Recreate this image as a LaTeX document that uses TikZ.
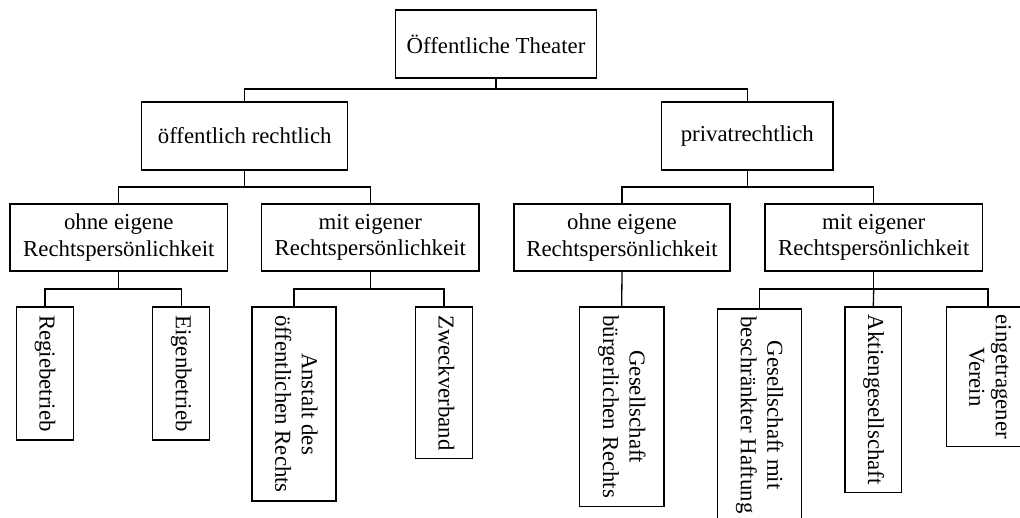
\documentclass[tikz,border=0pt]{standalone}
\usepackage{fontspec}
\setmainfont{Liberation Serif}
\usepackage{graphicx}
\begin{document}
\begin{tikzpicture}[x=1pt,y=-1pt,
  box/.style={draw, line width=1.3pt, inner sep=2pt, align=center, fill=white,
    font=\fontsize{22.8}{26.5}\selectfont},
  conn/.style={line width=1.3pt},
]
\newcommand{\vtext}[1]{\rotatebox{-90}{\begin{tabular}{@{}c@{}}#1\end{tabular}}}
\path[use as bounding box, clip] (0,0) rectangle (1020,517);
\fill[white] (0,0) rectangle (1020,517);

% level 0
\node[box, minimum width=201, minimum height=68] (root) at (496,44) {Öffentliche Theater};

% level 1
\node[box, minimum width=206, minimum height=68] (oer) at (244.7,136) {öffentlich rechtlich};
\node[box, minimum width=171.3, minimum height=68] (pr) at (747.3,136) {privatrechtlich};

% level 2
\node[box, minimum width=217.7, minimum height=67] (lo) at (118.8,237.5) {ohne eigene\\Rechtspersönlichkeit};
\node[box, minimum width=217.3, minimum height=67] (lm) at (370.3,237.5) {mit eigener\\Rechtspersönlichkeit};
\node[box, minimum width=216, minimum height=67] (ro) at (622,237.5) {ohne eigene\\Rechtspersönlichkeit};
\node[box, minimum width=217.3, minimum height=67] (rm) at (873.7,237.5) {mit eigener\\Rechtspersönlichkeit};

% level 3 (vertical labels)
\node[box, minimum width=56.7, minimum height=133] (regie) at (45,373.5) {\vtext{Regiebetrieb}};
\node[box, minimum width=57, minimum height=133] (eigen) at (181.2,373.5) {\vtext{Eigenbetrieb}};
\node[box, minimum width=84, minimum height=194] (anst) at (294,404) {\vtext{Anstalt des\\öffentlichen Rechts}};
\node[box, minimum width=56.7, minimum height=151.7] (zweck) at (444,382.8) {\vtext{Zweckverband}};
\node[box, minimum width=84.7, minimum height=199.7] (gbr) at (621.7,406.8) {\vtext{Gesellschaft\\bürgerlichen Rechts}};
\node[box, minimum width=84.3, minimum height=212] (gmbh) at (759.5,415) {\vtext{Gesellschaft mit\\beschränkter Haftung}};
\node[box, minimum width=56.7, minimum height=185.7] (ag) at (873.3,399.8) {\vtext{Aktiengesellschaft}};
\node[box, minimum width=83, minimum height=139.7] (ev) at (988,376.8) {\vtext{eingetragener\\Verein}};

% bus heights
\coordinate (bus0) at (0,89);
\coordinate (bus1) at (0,187);
\coordinate (bus2) at (0,289);

% connectors
\draw[conn] (root.south) -- (root.south |- bus0) -| (oer.north);
\draw[conn] (root.south |- bus0) -| (pr.north);

\draw[conn] (oer.south) -- (oer.south |- bus1) -| (lo.north);
\draw[conn] (oer.south |- bus1) -| (lm.north);
\draw[conn] (pr.south) -- (pr.south |- bus1) -| (ro.north);
\draw[conn] (pr.south |- bus1) -| (rm.north);

\draw[conn] (lo.south) -- (lo.south |- bus2) -| (regie.north);
\draw[conn] (lo.south |- bus2) -| (eigen.north);
\draw[conn] (lm.south) -- (lm.south |- bus2) -| (anst.north);
\draw[conn] (lm.south |- bus2) -| (zweck.north);
\draw[conn] (ro.south) -- (gbr.north);
\draw[conn] (rm.south) -- (rm.south |- bus2) -| (gmbh.north);
\draw[conn] (rm.south |- bus2) -| (ev.north);
\draw[conn] (rm.south |- bus2) -- (ag.north);
\end{tikzpicture}
\end{document}
